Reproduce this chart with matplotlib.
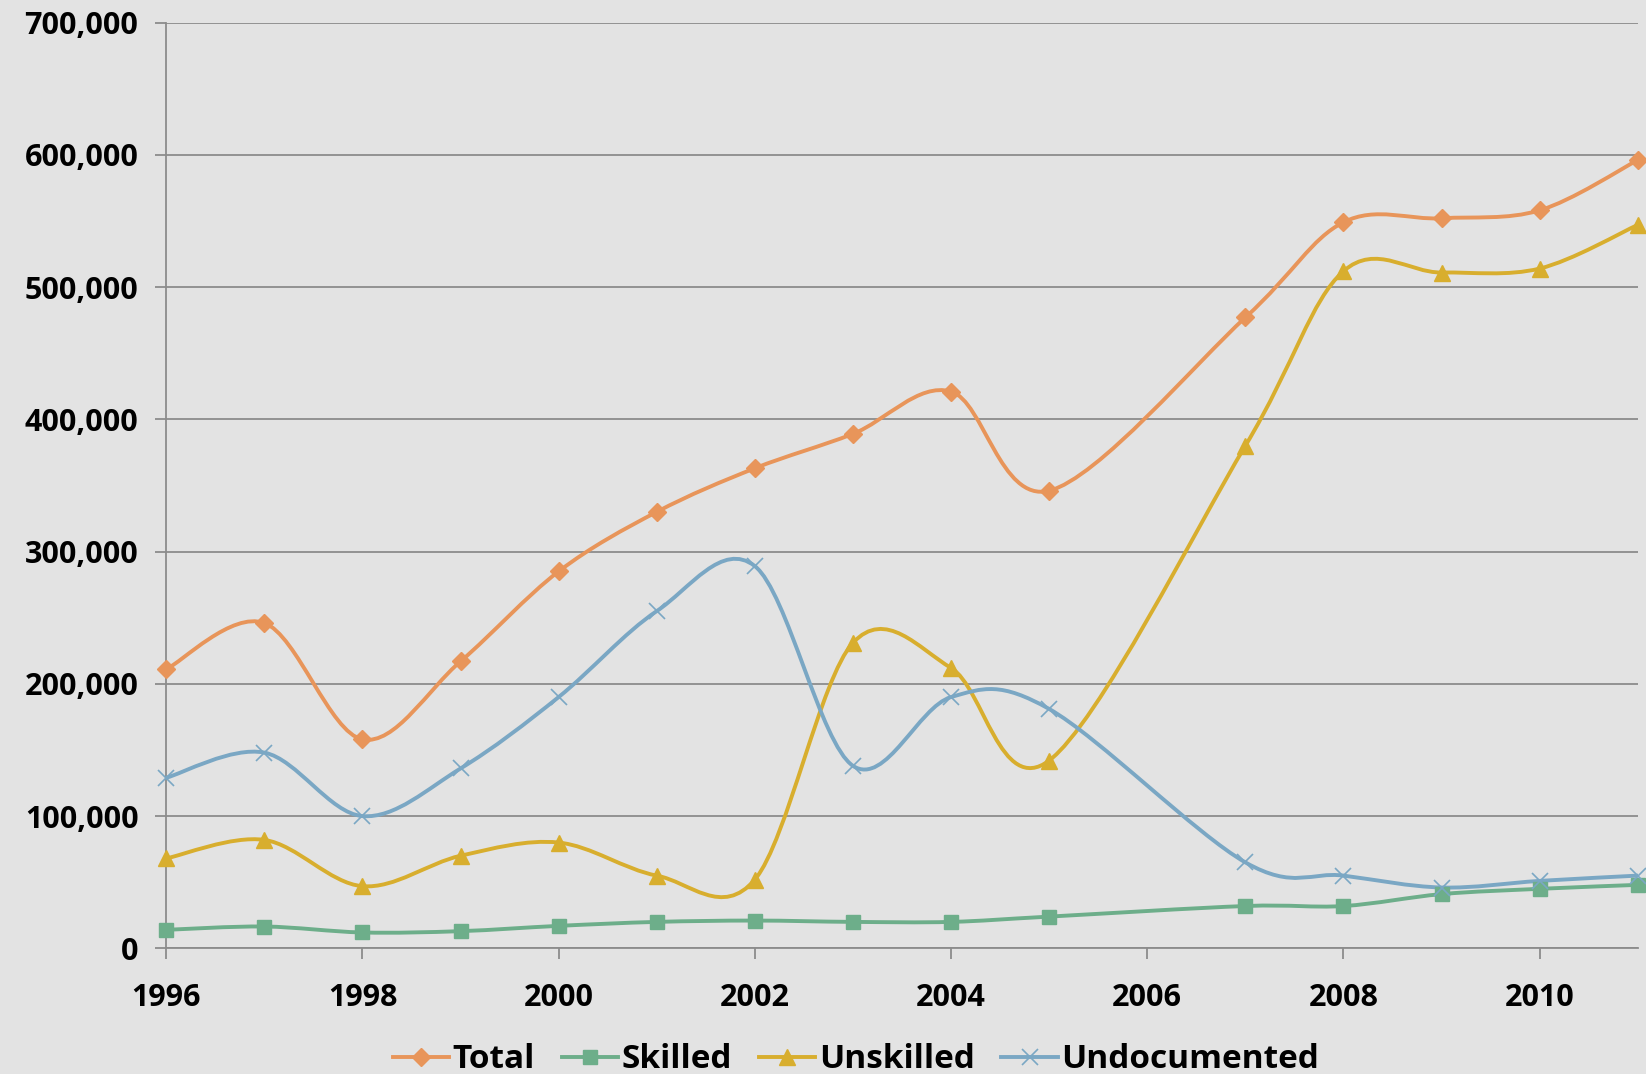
import numpy as np
import matplotlib.pyplot as plt
from matplotlib.path import Path
from matplotlib.patches import PathPatch
from matplotlib.lines import Line2D
from matplotlib.ticker import FuncFormatter

years = [1996, 1997, 1998, 1999, 2000, 2001, 2002, 2003, 2004, 2005,
         2007, 2008, 2009, 2010, 2011]
total = [211000, 246000, 158000, 217000, 285000, 330000, 363000, 389000, 421000,
         346000, 477000, 549000, 552000, 558000, 596000]
skilled = [14000, 16500, 12000, 13000, 17000, 20000, 21000, 20000, 20000,
           24000, 32000, 32000, 41000, 45000, 48000]
unskilled = [68000, 82000, 47000, 70000, 80000, 55000, 52000, 231000, 212000,
             142000, 380000, 512000, 511000, 514000, 547000]
undocumented = [129000, 148000, 100000, 136000, 190000, 255000, 289000, 138000,
                190000, 181000, 65000, 55000, 46000, 51000, 55000]

series = [
    ("Total", total, "#E8955A", "D", 9, 1.0),
    ("Skilled", skilled, "#6DAE8A", "s", 10, 1.0),
    ("Unskilled", unskilled, "#D8AE2E", "^", 11, 1.0),
    ("Undocumented", undocumented, "#7AA7C4", "x", 11, 1.2),
]

bg = "#e3e3e3"
plt.rcParams["font.family"] = ["Open Sans", "DejaVu Sans"]
plt.rcParams["font.weight"] = "bold"


def smooth_path(xs, ys):
    # Catmull-Rom style bezier like Excel's smoothed line
    pts = np.column_stack([xs, ys]).astype(float)
    n = len(pts)
    verts = [pts[0]]
    codes = [Path.MOVETO]
    for i in range(n - 1):
        p0 = pts[max(i - 1, 0)]
        p1 = pts[i]
        p2 = pts[i + 1]
        p3 = pts[min(i + 2, n - 1)]
        c1 = p1 + (p2 - p0) / 6.0
        c2 = p2 - (p3 - p1) / 6.0
        verts += [c1, c2, p2]
        codes += [Path.CURVE4] * 3
    return Path(verts, codes)


fig = plt.figure(figsize=(16.46, 10.74), dpi=100, facecolor=bg)
ax = fig.add_axes([0.101, 0.117, 0.894, 0.862])
ax.set_facecolor(bg)

handles = []
for name, vals, color, mk, ms, mew in series:
    patch = PathPatch(smooth_path(years, vals), facecolor="none", edgecolor=color,
                      lw=2.8, zorder=3, capstyle="round", joinstyle="round")
    ax.add_patch(patch)
    ax.plot(years, vals, linestyle="none", marker=mk, markersize=ms, color=color,
            markeredgewidth=mew, zorder=4, clip_on=False)
    handles.append(Line2D([], [], color=color, lw=2.8, marker=mk, markersize=ms,
                          markeredgewidth=mew, label=name))

ax.set_xlim(1996, 2011)
ax.set_ylim(0, 700000)
ax.set_xticks(range(1996, 2011, 2))
ax.set_yticks(range(0, 700001, 100000))
ax.yaxis.set_major_formatter(FuncFormatter(lambda v, p: f"{int(v):,}"))
ax.grid(axis="y", color="#8c8c8c", lw=1.3)
ax.set_axisbelow(True)
for s in ["top", "right"]:
    ax.spines[s].set_visible(False)
for s in ["left", "bottom"]:
    ax.spines[s].set_color("#8c8c8c")
    ax.spines[s].set_linewidth(1.3)
ax.tick_params(axis="both", direction="out", length=8, width=1.3, color="#8c8c8c",
               labelsize=22)
ax.tick_params(axis="y", pad=12)
ax.tick_params(axis="x", pad=17)
for lbl in ax.get_xticklabels() + ax.get_yticklabels():
    lbl.set_fontweight("bold")

fig.legend(handles=handles, loc="lower center", bbox_to_anchor=(0.52, -0.03),
           ncol=4, frameon=False, handlelength=1.7, handletextpad=0.1,
           columnspacing=0.8, prop={"weight": "bold", "size": 24})

fig.savefig("out.png", dpi=100, facecolor=bg)
